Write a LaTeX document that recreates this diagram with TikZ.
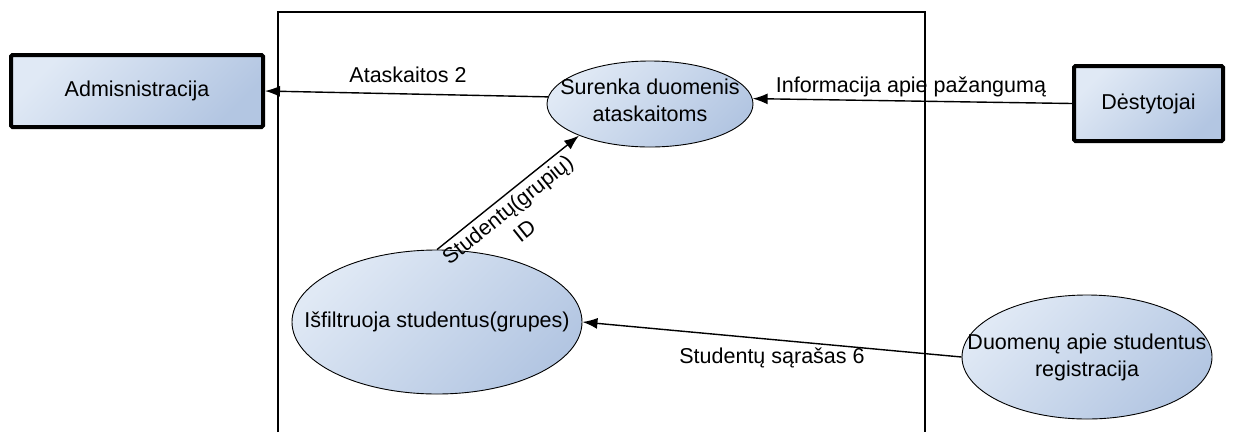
\documentclass[tikz,border=0pt]{standalone}
\usepackage{fontspec}
\setmainfont{Liberation Sans}
\usetikzlibrary{arrows.meta,shapes.geometric}
\definecolor{fillLight}{HTML}{E0E9F5}
\definecolor{fillDark}{HTML}{B3C6E2}
\begin{document}
\begin{tikzpicture}[x=1pt,y=-1pt,
  every node/.style={font=\fontsize{21.5}{27}\selectfont},
  entity/.style={rectangle, draw=black, line width=4pt, rounded corners=1.5pt,
    top color=fillLight, bottom color=fillDark, shading angle=45,
    inner sep=0pt, align=center},
  process/.style={ellipse, draw=black, line width=0.9pt,
    top color=fillLight, bottom color=fillDark, shading angle=45, inner sep=0pt},
  flow/.style={line width=1.4pt, -{Latex[length=15pt,width=11pt]}},
  lbl/.style={inner sep=1pt, align=center}]
\useasboundingbox (0,0) rectangle (1234,432);

% system boundary, open at the bottom
\draw[line width=1.5pt] (278,432) -- (278,12) -- (925,12) -- (925,432);

% external entities
\node[entity, minimum width=252pt, minimum height=72pt] (adm) at (137,91) {Admisnistracija};
\node[entity, minimum width=149pt, minimum height=75pt] (des) at (1148.5,103.5) {Dėstytojai};

% processes
\node[process, minimum width=206pt, minimum height=86pt] (sur) at (650,104) {};
\node[lbl, yshift=4pt] (surText) at (sur.center) {Surenka duomenis\\ataskaitoms};
\node[process, minimum width=290pt, minimum height=144pt] (isf) at (437,322) {};
\node[lbl] (isfText) at (isf.center) {Išfiltruoja studentus(grupes)};
\node[process, minimum width=250pt, minimum height=124pt] (duo) at (1087,357) {};
\node[lbl] (duoText) at (duo.center) {Duomenų apie studentus\\registracija};

% data flows
\draw[flow] (sur.176) -- (adm.east);
\draw[flow] (des.west) -- (sur.3);
\draw[flow] (duo.west) -- (isf.east);
\draw[flow] (isf.north) -- (sur.204)
  node[lbl, pos=0.44, sloped, below=3pt] (lblGroup) {Studentų(grupių)\\ID};

% flow labels
\node[lbl] (lblReport) at (408,75) {Ataskaitos 2};
\node[lbl] (lblInfo) at (911,87) {Informacija apie pažangumą};
\node[lbl] (lblList) at (772,358) {Studentų sąrašas 6};
\end{tikzpicture}
\end{document}
